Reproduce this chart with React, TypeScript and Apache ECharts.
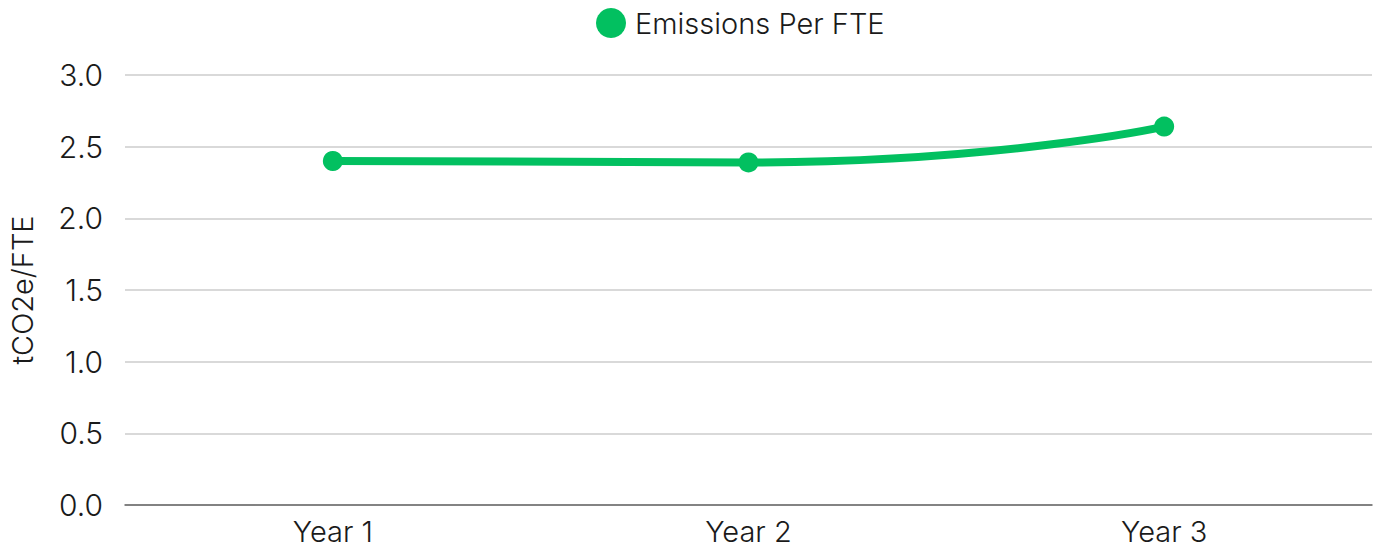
import React, { useEffect, useRef } from "react";
import * as echarts from "echarts";

const categories = ["Year 1", "Year 2", "Year 3"];
const emissionsPerFte = [2.4, 2.39, 2.64];
const seriesName = "Emissions Per FTE";
const yAxisName = "tCO2e/FTE";

export default function App() {
  const ref = useRef<HTMLDivElement>(null);
  useEffect(() => {
    if (!ref.current) return;
    const chart = echarts.init(ref.current, null, { renderer: "svg" });
    const font = "Inter, 'Helvetica Neue', Arial, sans-serif";
    chart.setOption({
      animation: false,
      backgroundColor: "#ffffff",
      legend: {
        data: [seriesName],
        left: 591,
        top: 3,
        icon: "circle",
        itemWidth: 30,
        itemHeight: 30,
        itemGap: 10,
        textStyle: { fontFamily: font, fontSize: 29, fontWeight: 300, color: "#1a1a1a", padding: [0, 0, 0, 4] },
      },
      grid: { left: 122, right: 14, top: 75, bottom: 44 },
      xAxis: {
        type: "category",
        data: categories,
        boundaryGap: true,
        axisLine: { lineStyle: { color: "#666", width: 1.5 } },
        axisTick: { show: false },
        axisLabel: { fontFamily: font, fontSize: 29, fontWeight: 300, color: "#1a1a1a", margin: 12 },
      },
      yAxis: {
        type: "value",
        min: 0,
        max: 3,
        interval: 0.5,
        name: yAxisName,
        nameLocation: "middle",
        nameGap: 88,
        nameTextStyle: { fontFamily: font, fontSize: 29, fontWeight: 300, color: "#1a1a1a" },
        axisLabel: {
          fontFamily: font,
          fontSize: 30,
          fontWeight: 300,
          color: "#1a1a1a",
          margin: 22,
          formatter: (v: number) => v.toFixed(1),
        },
        splitLine: { lineStyle: { color: "#cccccc", width: 1.5 } },
      },
      series: [
        {
          name: seriesName,
          type: "line",
          data: emissionsPerFte,
          smooth: 0.6,
          symbol: "circle",
          symbolSize: 20,
          color: "#02c060",
          lineStyle: { width: 8, color: "#02c060" },
          itemStyle: { color: "#02c060" },
        },
      ],
    });
    return () => chart.dispose();
  }, []);
  return (
    <div
      ref={ref}
      style={{ position: "fixed", left: 0, top: 0, width: 1386, height: 549 }}
    />
  );
}
